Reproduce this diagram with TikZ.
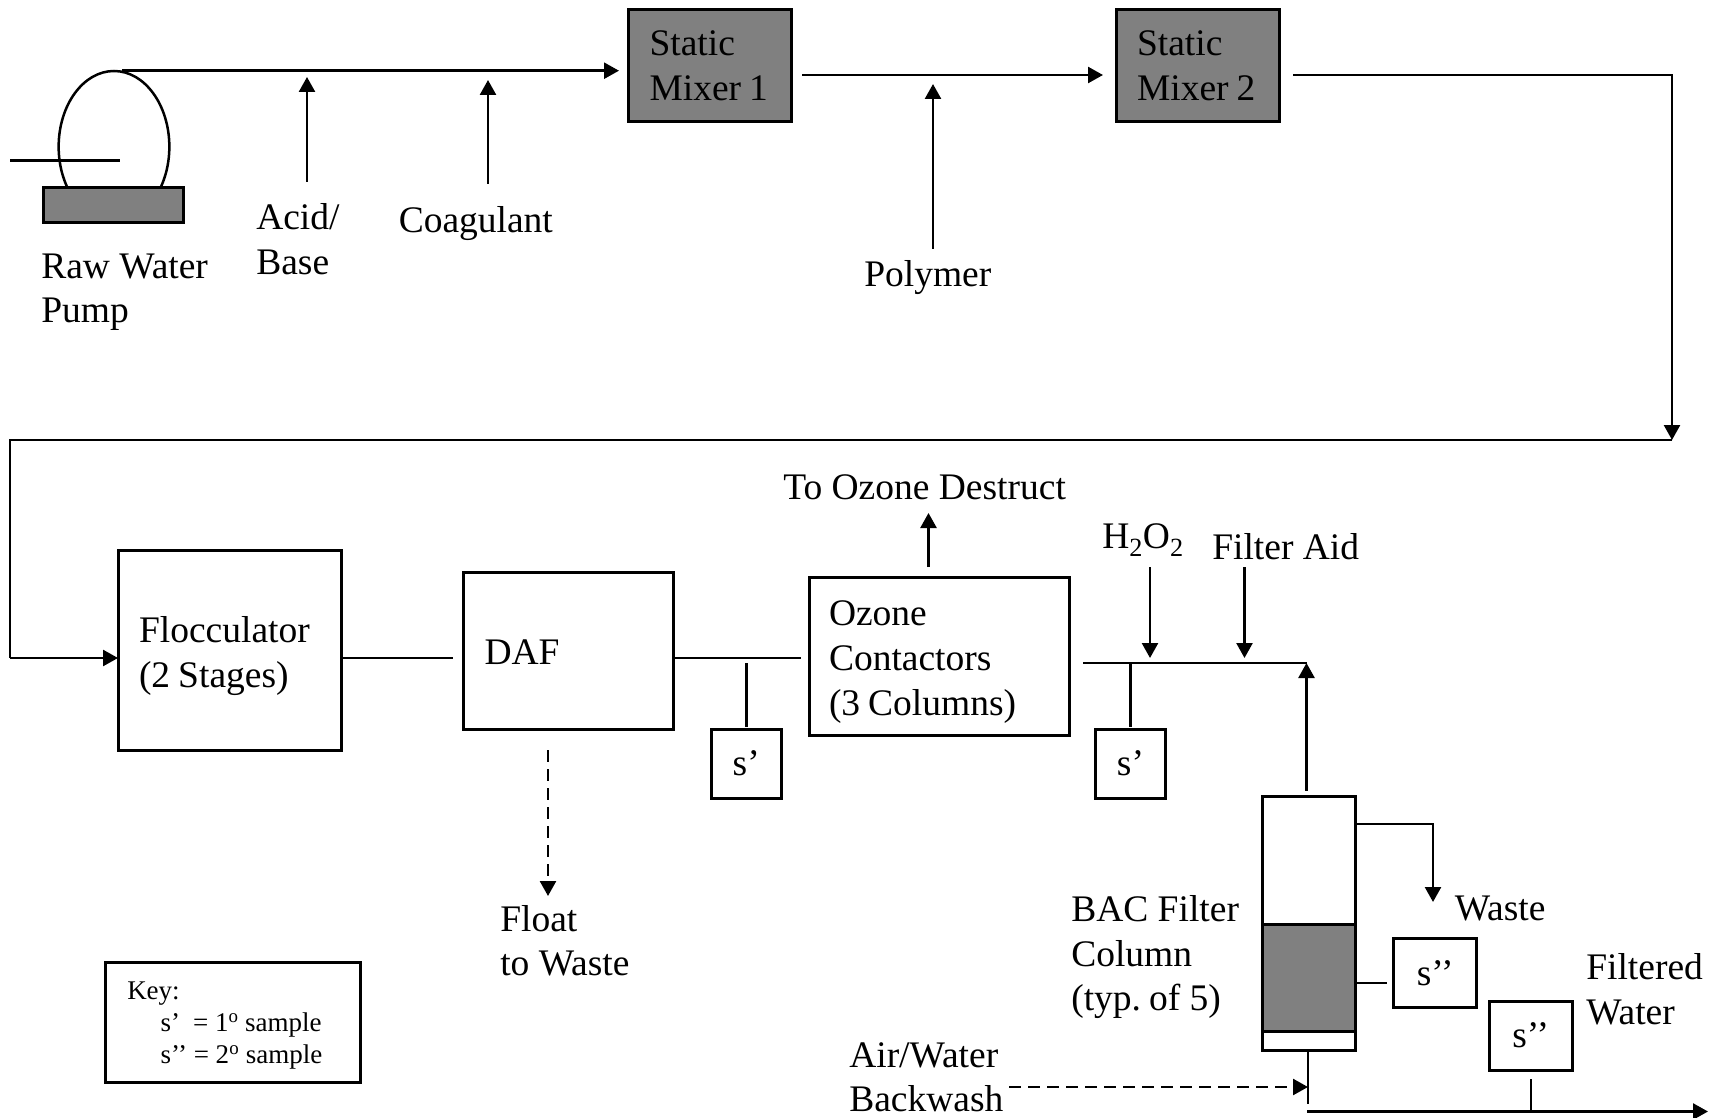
\documentclass[tikz,border=0pt]{standalone}
\usepackage{fontspec}
\setmainfont{Liberation Serif}
\usetikzlibrary{arrows.meta, shapes.geometric}
\definecolor{media}{gray}{0.5}
\newcommand{\nsp}{\hspace{8pt}}
\tikzset{every path/.style={line width=2.5pt}}
\tikzset{
  flow/.style={-{Triangle[length=15pt,width=16pt]}},
  waste/.style={flow, dash pattern=on 12pt off 7pt},
  unit/.style 2 args={draw, line width=3pt, anchor=north west, inner sep=0pt, outer sep=0pt, minimum width=#1, minimum height=#2},
  stage/.style n args={3}{unit={#1}{#2}, inner xsep=#3, text width=#1-2*#3, align=left, font=\fontsize{37.5}{44.7}\selectfont},
  drop/.style={execute at begin node={\rule{0pt}{#1}}},
  mixer/.style={stage={163}{112}{21}, fill=media, drop=26pt},
  sampler/.style={unit={#1}{69}, font=\fontsize{37.5}{44.7}\selectfont},
  label/.style={anchor=base west, inner sep=0pt, align=left, font=\fontsize{37.5}{44.7}\selectfont}
}

\begin{document}
\begin{tikzpicture}[x=1pt,y=-1pt]
    \useasboundingbox (0,0) rectangle (1711,1118);

    \node[ellipse, draw, inner sep=0pt, minimum width=110.7pt, minimum height=151.4pt] (pump) at (114,146.7) {};
    \node[unit={139.5pt}{35pt}, fill=media] (pumpbase) at (43.5,187.7) {};
    \coordinate (inletA) at (10,160.5);
    \coordinate (inletB) at (120,160.5);
    \draw (inletA) -- (inletB);
    \node[label] (pumplabel) at (40,322.8) {Raw Water\\Pump};

    \node[mixer] (mixerA) at (628.5,9.5) {Static\\Mixer\nsp 1};
    \node[mixer] (mixerB) at (1116,9.5) {Static\\Mixer\nsp 2};

    \coordinate (feedA) at (122,70.7);
    \coordinate (feedB) at (619,70.7);
    \draw[flow] (feedA) -- (feedB);

    \coordinate (acidA) at (307,181.7);
    \coordinate (acidB) at (307,77);
    \draw[flow] (acidA) -- (acidB);
    \node[label] (acidlabel) at (255,274.2) {Acid/\\Base};

    \coordinate (coagA) at (488,184);
    \coordinate (coagB) at (488,80);
    \draw[flow] (coagA) -- (coagB);
    \node[label] (coaglabel) at (397.5,233) {Coagulant};

    \coordinate (mixA) at (802,75);
    \coordinate (mixB) at (1103,75);
    \draw[flow] (mixA) -- (mixB);

    \coordinate (polyA) at (933,249);
    \coordinate (polyB) at (933,84);
    \draw[flow] (polyA) -- (polyB);
    \node[label] (polylabel) at (863,286) {Polymer};

    \coordinate (riserA) at (1293,75);
    \coordinate (riserB) at (1672,75);
    \coordinate (riserC) at (1672,440);
    \coordinate (returnA) at (10,440);
    \coordinate (returnB) at (10,658);
    \draw[flow] (riserA) -- (riserB) -- (riserC);
    \draw (riserC) -- (returnA) -- (returnB);

    \node[stage={223.5}{200}{21}, drop=37.5pt] (floc) at (118,550) {Flocculator\\(2\nsp Stages)};
    \draw[flow] (returnB) -- (returnB -| floc.west);

    \node[stage={209.7}{157}{21}, drop=28pt] (daf) at (463.5,572) {DAF};
    \coordinate (dafin) at (453,658);
    \draw (floc.east |- dafin) -- (dafin);

    \coordinate (dafoutA) at (801,658);
    \draw (dafoutA -| daf.east) -- (dafoutA);
    \node[sampler=70.5] (sampleA) at (711,729) {s’};
    \coordinate (tapA) at (sampleA.north |- 0,663);
    \coordinate (tapB) at (sampleA.north |- 0,726.7);
    \draw (tapA) -- (tapB);

    \coordinate (floatA) at (548,750);
    \coordinate (floatB) at (548,896);
    \draw[waste] (floatA) -- (floatB);
    \node[label] (floatlabel) at (499,975.7) {Float\\to Waste};

    \node[stage={260}{158.7}{20}, drop=36.5pt] (ozone) at (809,577) {Ozone\\Contactors\\(3\nsp Columns)};
    \coordinate (ventA) at (928.5,567);
    \coordinate (ventB) at (928.5,513);
    \draw[flow] (ventA) -- (ventB);
    \node[label] (ventlabel) at (782,499) {To Ozone Destruct};

    \coordinate (headerA) at (1083,663);
    \coordinate (headerB) at (1306.5,663);
    \draw (headerA) -- (headerB);

    \node[sampler=70] (sampleB) at (1095.5,729) {s’};
    \coordinate (tapC) at (sampleB.north |- headerA);
    \coordinate (tapD) at (sampleB.north |- 0,726.7);
    \draw (tapC) -- (tapD);

    \coordinate (peroxA) at (1150,567);
    \coordinate (peroxB) at (1150,658);
    \draw[flow] (peroxA) -- (peroxB);
    \node[label] (peroxlabel) at (1101,548) {H\textsubscript{2}O\textsubscript{2}};

    \coordinate (aidA) at (1244.5,567);
    \coordinate (aidB) at (1244.5,658);
    \draw[flow] (aidA) -- (aidB);
    \node[label] (aidlabel) at (1211,559) {Filter Aid};

    \node[unit={93}{128.4}] (coltop) at (1262.7,796) {};
    \node[unit={93}{106.5}, fill=media] (colbed) at (1262.7,924.5) {};
    \node[unit={93}{19}] (colbase) at (1262.7,1031) {};
    \coordinate (colout) at (1306.5,790.7);
    \draw[flow] (colout) -- (headerB);
    \node[label] (collabel) at (1070,1010.7) {BAC Filter\\Column\\(typ.\nsp of 5)};

    \coordinate (drainA) at (1433,824);
    \coordinate (drainB) at (1433,902);
    \draw[flow] (coltop.east |- drainA) -- (drainA) -- (drainB);
    \node[label] (drainlabel) at (1453.5,920) {Waste};

    \node[sampler=82.8] (sampleC) at (1393.8,938.5) {s’’};
    \coordinate (tapE) at (1387,983);
    \draw (colbed.east |- tapE) -- (tapE);

    \node[sampler=83.5] (sampleD) at (1489,1001) {s’’};
    \node[label] (filteredlabel) at (1585,1024) {Filtered\\Water};

    \coordinate (underA) at (1308,1051);
    \coordinate (underB) at (1308,1104);
    \draw (underA) -- (underB);
    \coordinate (washA) at (1009,1087);
    \draw[waste] (washA) -- (underA |- washA);
    \node[label] (washlabel) at (848,1111.7) {Air/Water\\Backwash};

    \coordinate (prodA) at (1307,1111.5);
    \coordinate (prodB) at (1708,1111.5);
    \draw[flow] (prodA) -- (prodB);
    \coordinate (tapF) at (sampleD.south |- 0,1079);
    \draw (tapF) -- (tapF |- prodA);

    \node[unit={254.5}{120}] (keybox) at (105.5,962.7) {};
    \node[label, font=\fontsize{27}{31.8}\selectfont] (keylabel) at (126,1063.5) {Key:\\\hspace{33.3pt}s’\hspace{13pt}= 1\textsuperscript{o} sample\\\hspace{33.3pt}s’’ = 2\textsuperscript{o} sample};
  \end{tikzpicture}
\end{document}
